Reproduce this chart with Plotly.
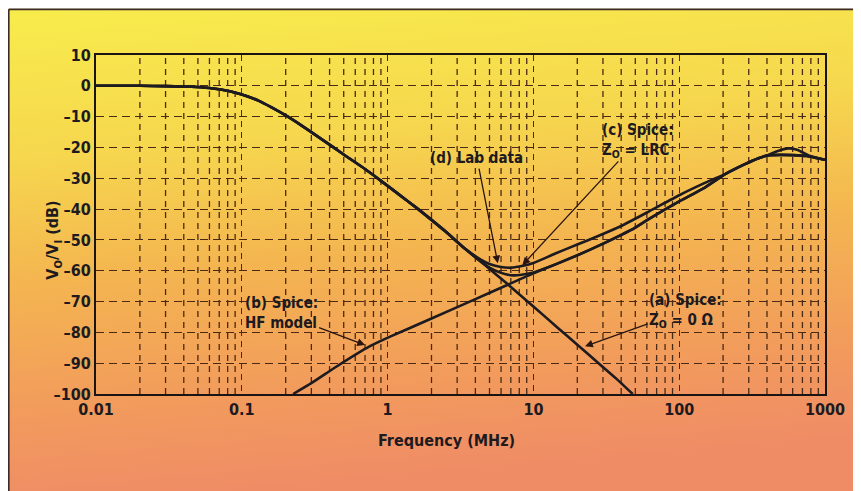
import base64
import math
import plotly.graph_objects as go

# ---------------- data ----------------
freq_a = [0.01, 0.02, 0.03, 0.045, 0.06, 0.08, 0.1, 0.13, 0.16, 0.2, 0.25, 0.35, 0.5, 0.7,
          0.887, 1.2, 1.58, 2.0, 2.5, 3.4, 4.78, 6.55, 10, 15, 20, 28.6, 37, 48]
db_a = [0, 0, -0.1, -0.3, -0.7, -1.6, -2.8, -4.8, -7, -9.6, -12.5, -17.2, -22.3, -27,
        -30.6, -35.3, -39.6, -43.5, -47.3, -52.9, -58.6, -64.1, -71.6, -78.9, -84, -90.4, -95, -100]

freq_b = [0.225, 0.3, 0.45, 0.757, 1.04, 2, 4, 6.55, 11, 20, 28.6, 50, 63, 100, 150, 211,
          280, 350, 400, 500, 600, 750, 850, 1000]
db_b = [-100, -96.5, -91, -84.5, -81.4, -75.5, -69.2, -64.7, -60, -55, -51.7, -46, -43, -37.5, -33, -28.4,
        -25.5, -23.5, -22.6, -22.4, -22.5, -22.8, -23.3, -24]

freq_c = [0.01, 0.02, 0.03, 0.045, 0.06, 0.08, 0.1, 0.13, 0.16, 0.2, 0.25, 0.35, 0.5, 0.7,
          0.887, 1.2, 1.58, 2.0, 2.5, 3.4, 4.2, 5.0, 6.0, 7.2, 8.5, 10, 12, 20, 28.6, 50, 63, 100,
          150, 211, 280, 350, 400, 500, 600, 750, 850, 1000]
db_c = [0, 0, -0.1, -0.3, -0.7, -1.6, -2.8, -4.8, -7, -9.6, -12.5, -17.2, -22.3, -27,
        -30.6, -35.3, -39.6, -43.5, -47.3, -52.9, -56.4, -59, -60.7, -61.5, -61.2, -60.6, -59.3, -55, -51.7,
        -46, -43, -37.5, -33, -28.4, -25.5, -23.5, -22.6, -22.4, -22.5, -22.8, -23.3, -24]

freq_d = [0.01, 0.02, 0.03, 0.045, 0.06, 0.08, 0.1, 0.13, 0.16, 0.2, 0.25, 0.35, 0.5, 0.7,
          0.887, 1.2, 1.58, 2.0, 2.5, 3.4, 4.3, 5.0, 6.0, 7.0, 8.5, 10, 14, 20, 28.6, 40, 63, 100,
          150, 211, 280, 350, 400, 470, 560, 650, 770, 1000]
db_d = [0, 0, -0.1, -0.3, -0.7, -1.6, -2.8, -4.8, -7, -9.6, -12.5, -17.2, -22.3, -27,
        -30.6, -35.3, -39.6, -43.5, -47.3, -52.9, -56.2, -57.8, -58.8, -59, -58.4, -57.5, -54.5, -51.5, -48.5,
        -45.5, -40.6, -35.5, -31.5, -28.4, -25.5, -23.5, -22.6, -21.2, -20.3, -20.8, -22.6, -24]

x_tick_vals = [0.01, 0.1, 1, 10, 100, 1000]
x_tick_text = ["0.01", "0.1", "1", "10", "100", "1000"]
y_tick_vals = [10, 0, -10, -20, -30, -40, -50, -60, -70, -80, -90, -100]
y_tick_text = ["10", "0", "\u201310", "\u201320", "\u201330", "\u201340", "\u201350",
               "\u201360", "\u201370", "\u201380", "\u201390", "\u2013100"]
minor_multipliers = [2, 3, 4, 5, 6, 7, 8, 9]

# ---------------- styling ----------------
FONT = "DejaVu Sans Condensed, Liberation Sans Narrow, Roboto, sans-serif"
INK = "#1d1a20"
GRID = "#4a2a14"

W, H = 861, 491
L, R, T, B = 88, 44, 46.5, 105
pw, ph = W - L - R, H - T - B


def px_to_paper(px, py):
    return (px - L) / pw, 1 - (py - T) / ph


fig = go.Figure()
line_style = dict(color=INK, width=2.6)
for name, fx, fy in [("(a) Spice: Z0 = 0 \u03a9", freq_a, db_a),
                     ("(b) Spice: HF model", freq_b, db_b),
                     ("(c) Spice: Z0 = LRC", freq_c, db_c),
                     ("(d) Lab data", freq_d, db_d)]:
    fig.add_trace(go.Scatter(x=fx, y=fy, mode="lines", name=name,
                             line=dict(shape="spline", smoothing=0.5, **line_style),
                             showlegend=False, hoverinfo="x+y+name"))

# minor vertical grid lines (2..9 within each decade); shapes on a log axis take raw values
for dec in range(-2, 3):
    for m in minor_multipliers:
        xv = m * 10 ** dec
        fig.add_shape(type="line", xref="x", yref="paper", x0=xv, x1=xv, y0=0, y1=1,
                      layer="below", line=dict(color=GRID, width=1.3, dash="6px,5px"))

# background gradient image covering the whole figure
svg = ('<svg xmlns="http://www.w3.org/2000/svg" width="861" height="491" preserveAspectRatio="none">'
       '<defs><linearGradient id="g" x1="0" y1="0" x2="0.15" y2="1">'
       '<stop offset="0" stop-color="#f8ec4c"/>'
       '<stop offset="0.3" stop-color="#f6d74e"/>'
       '<stop offset="0.55" stop-color="#f4b550"/>'
       '<stop offset="0.8" stop-color="#f29c5c"/>'
       '<stop offset="1" stop-color="#ef8c66"/>'
       '</linearGradient></defs><rect width="861" height="491" fill="url(#g)"/></svg>')
src = "data:image/svg+xml;base64," + base64.b64encode(svg.encode()).decode()
x0p, y0p = px_to_paper(0, 0)
fig.add_layout_image(dict(source=src, xref="paper", yref="paper", x=x0p, y=y0p,
                          sizex=W / pw, sizey=H / ph, xanchor="left", yanchor="top",
                          sizing="stretch", layer="below"))

# frame line of the colour panel (left and top)
x1p, y1p = px_to_paper(W, H)
xl, yt = px_to_paper(0.8, 0.8)
fig.add_shape(type="line", xref="paper", yref="paper", x0=xl, x1=xl, y0=yt, y1=y1p,
              line=dict(color="#3a2a2a", width=1.6))
fig.add_shape(type="line", xref="paper", yref="paper", x0=xl, x1=x1p, y0=yt, y1=yt,
              line=dict(color="#3a2a2a", width=1.6))

ann_font = dict(family=FONT, size=15, color=INK, weight="bold")

annots = [
    ("(d) Lab data", 4.1, -23.5, 5.7, -57.6),
    ("(c) Spice:<br>Z<sub>O</sub> = LRC", 52, -17.7, 8.4, -58.2),
    ("(b) Spice:<br>HF model", 0.186, -73.8, 0.7, -84.1),
    ("(a) Spice:<br>Z<sub>O</sub> = 0 \u03a9", 111, -72.8, 22.6, -84.5),
]
for text, tx, ty, hx, hy in annots:
    fig.add_annotation(x=math.log10(hx), y=hy, ax=math.log10(tx), ay=ty,
                       xref="x", yref="y", axref="x", ayref="y",
                       text=text, showarrow=True, arrowhead=2, arrowsize=1.2, arrowwidth=1.3,
                       arrowcolor="#2a1512", font=ann_font, align="left")

fx_, fy_ = px_to_paper(438, 444)
fig.add_annotation(text="Frequency (MHz)", xref="paper", yref="paper", x=fx_, y=fy_,
                   showarrow=False, font=dict(family=FONT, size=16, color=INK, weight="bold"))
vx_, vy_ = px_to_paper(33, 232)
fig.add_annotation(text="V<sub>O</sub>/V<sub>I</sub> (dB)", xref="paper", yref="paper",
                   x=vx_, y=vy_, showarrow=False, textangle=-90,
                   font=dict(family=FONT, size=16, color=INK, weight="bold"))

fig.update_layout(
    width=W, height=H,
    margin=dict(l=L, r=R, t=T, b=B),
    paper_bgcolor="white", plot_bgcolor="rgba(0,0,0,0)",
    xaxis=dict(type="log", range=[-2, 3], tickvals=x_tick_vals, ticktext=x_tick_text,
               showgrid=True, gridcolor=GRID, gridwidth=1.3, griddash="6px,5px",
               showline=True, linecolor="#1a1414", linewidth=2.2, mirror=True,
               ticks="", zeroline=False,
               tickfont=dict(family=FONT, size=16, color=INK, weight="bold")),
    yaxis=dict(range=[-100, 10], tickvals=y_tick_vals, ticktext=y_tick_text,
               showgrid=True, gridcolor=GRID, gridwidth=1.3, griddash="8px,5px",
               showline=True, linecolor="#1a1414", linewidth=2.2, mirror=True,
               ticks="", zeroline=False,
               tickfont=dict(family=FONT, size=16, color=INK, weight="bold")),
)

fig.write_html("out.html")
